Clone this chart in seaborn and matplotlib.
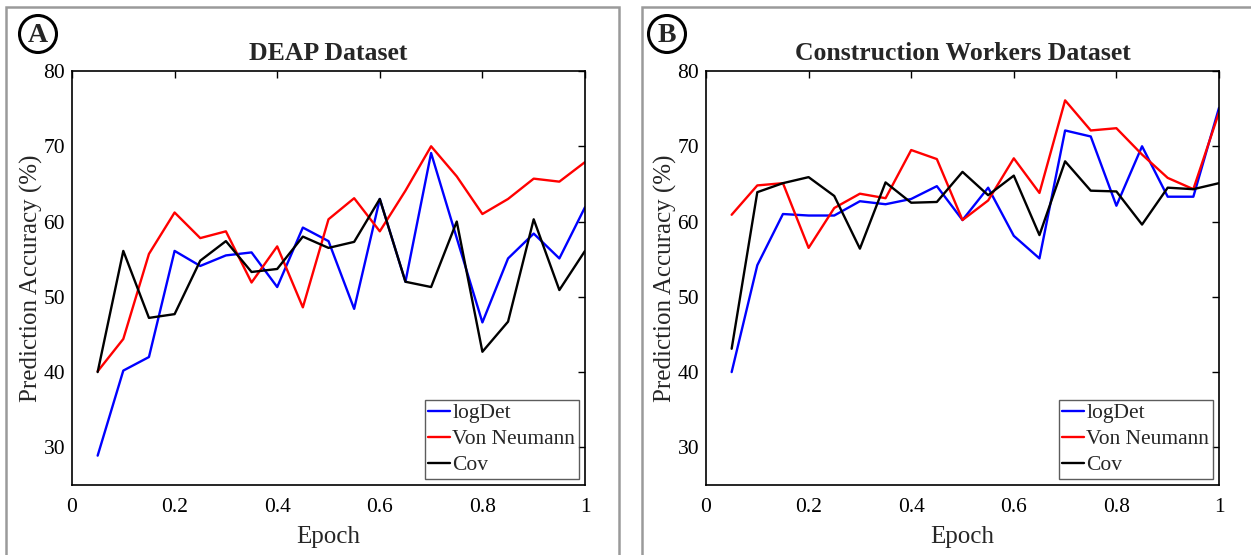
import numpy as np
import pandas as pd
import matplotlib
matplotlib.use("Agg")
import matplotlib.pyplot as plt
from matplotlib.patches import Rectangle, Ellipse
import seaborn as sns

# Epoch fractions shared by both panels
epochs = [0.05, 0.10, 0.15, 0.20, 0.25, 0.30, 0.35, 0.40, 0.45, 0.50,
          0.55, 0.60, 0.65, 0.70, 0.75, 0.80, 0.85, 0.90, 0.95, 1.00]

# DEAP dataset accuracies (%)
deap_logdet = [28.9, 40.2, 42.0, 56.1, 54.1, 55.5, 55.9, 51.3, 59.2, 57.4,
               48.4, 63.0, 52.0, 69.1, 57.8, 46.6, 55.1, 58.4, 55.1, 61.9]
deap_vonneumann = [40.1, 44.4, 55.7, 61.2, 57.8, 58.7, 51.9, 56.7, 48.6, 60.3,
                   63.1, 58.7, 64.1, 70.0, 66.0, 61.0, 63.0, 65.7, 65.3, 67.9]
deap_cov = [40.0, 56.1, 47.2, 47.7, 54.8, 57.4, 53.3, 53.7, 58.0, 56.5,
            57.3, 63.0, 52.0, 51.3, 60.0, 42.7, 46.7, 60.3, 50.9, 56.1]

# Construction workers dataset accuracies (%)
cw_logdet = [40.0, 54.2, 61.0, 60.8, 60.8, 62.7, 62.3, 63.0, 64.7, 60.2,
             64.5, 58.1, 55.1, 72.1, 71.3, 62.1, 70.0, 63.3, 63.3, 75.1]
cw_vonneumann = [60.9, 64.8, 65.1, 56.5, 61.8, 63.7, 63.1, 69.5, 68.3, 60.2,
                 62.8, 68.4, 63.8, 76.1, 72.1, 72.4, 68.9, 65.8, 64.3, 74.5]
cw_cov = [43.1, 63.9, 65.1, 65.9, 63.4, 56.4, 65.2, 62.5, 62.6, 66.6,
          63.5, 66.1, 58.2, 68.0, 64.1, 64.0, 59.6, 64.5, 64.3, 65.1]

methods = ["logDet", "Von Neumann", "Cov"]
titles = ["DEAP Dataset", "Construction Workers Dataset"]
panel_tags = ["A", "B"]
x_ticks = [0, 0.2, 0.4, 0.6, 0.8, 1.0]
x_tick_labels = ["0", "0.2", "0.4", "0.6", "0.8", "1"]
y_ticks = [30, 40, 50, 60, 70, 80]


def long_frame(series):
    rows = []
    for name, vals in zip(methods, series):
        for e, v in zip(epochs, vals):
            rows.append({"Epoch": e, "Accuracy": v, "Method": name})
    return pd.DataFrame(rows)


frames = [long_frame([deap_logdet, deap_vonneumann, deap_cov]),
          long_frame([cw_logdet, cw_vonneumann, cw_cov])]

sns.set_theme(style="white")
plt.rcParams["font.family"] = ["Liberation Serif", "DejaVu Serif"]

W, H = 1251, 555
fig = plt.figure(figsize=(W / 100, H / 100), dpi=100)

palette = {"logDet": "#0000ff", "Von Neumann": "#ff0000", "Cov": "#000000"}

# axes boxes in pixels: (left, right), top=71, bottom=485
ax_lr = [(72, 585), (706, 1219)]
top_px, bot_px = 71, 485

for i, (l, r) in enumerate(ax_lr):
    ax = fig.add_axes([l / W, 1 - bot_px / H, (r - l) / W, (bot_px - top_px) / H])
    sns.lineplot(data=frames[i], x="Epoch", y="Accuracy", hue="Method",
                 hue_order=methods, palette=palette, linewidth=1.7,
                 ax=ax, legend=False)
    ax.set_xlim(0, 1)
    ax.set_ylim(25, 80)
    ax.set_xticks(x_ticks)
    ax.set_xticklabels(x_tick_labels)
    ax.set_yticks(y_ticks)
    ax.tick_params(direction="in", length=5, width=1, top=True, right=True,
                   labelsize=15.5, colors="black", pad=5)
    ax.tick_params(axis="x", pad=9)
    for s in ax.spines.values():
        s.set_color("black")
        s.set_linewidth(1.2)
    ax.set_xlabel("Epoch", fontsize=18, labelpad=7)
    ax.set_ylabel("Prediction Accuracy (%)", fontsize=18, labelpad=0)
    ax.set_title(titles[i], fontsize=18.5, fontweight="bold", pad=8)

    handles = [plt.Line2D([], [], color=palette[m], lw=1.7) for m in methods]
    leg = ax.legend(handles, methods, loc="lower right", fontsize=15.5,
                    frameon=True, fancybox=False, handlelength=1.0,
                    handletextpad=0.12, borderpad=0.15, labelspacing=0.28,
                    borderaxespad=0.3)
    leg.get_frame().set_edgecolor("#333333")
    leg.get_frame().set_linewidth(1.0)

# Gray panel frames
for (x0, x1) in [(6, 619), (642, 1260)]:
    fig.patches.append(Rectangle((x0 / W, -0.05), (x1 - x0) / W, 1.05 - 7 / H,
                                 transform=fig.transFigure, fill=False,
                                 edgecolor="#9a9a9a", linewidth=1.8))

# Circled panel tags
for tag, (cx, cy) in zip(panel_tags, [(38, 34), (667, 34)]):
    fig.patches.append(Ellipse((cx / W, 1 - cy / H), 37 / W, 37 / H,
                               transform=fig.transFigure, fill=False,
                               edgecolor="black", linewidth=2.2))
    fig.text(cx / W, 1 - (cy + 1) / H, tag, ha="center", va="center",
             fontsize=20, fontweight="bold")

fig.savefig("out.png", dpi=100, facecolor="white")
